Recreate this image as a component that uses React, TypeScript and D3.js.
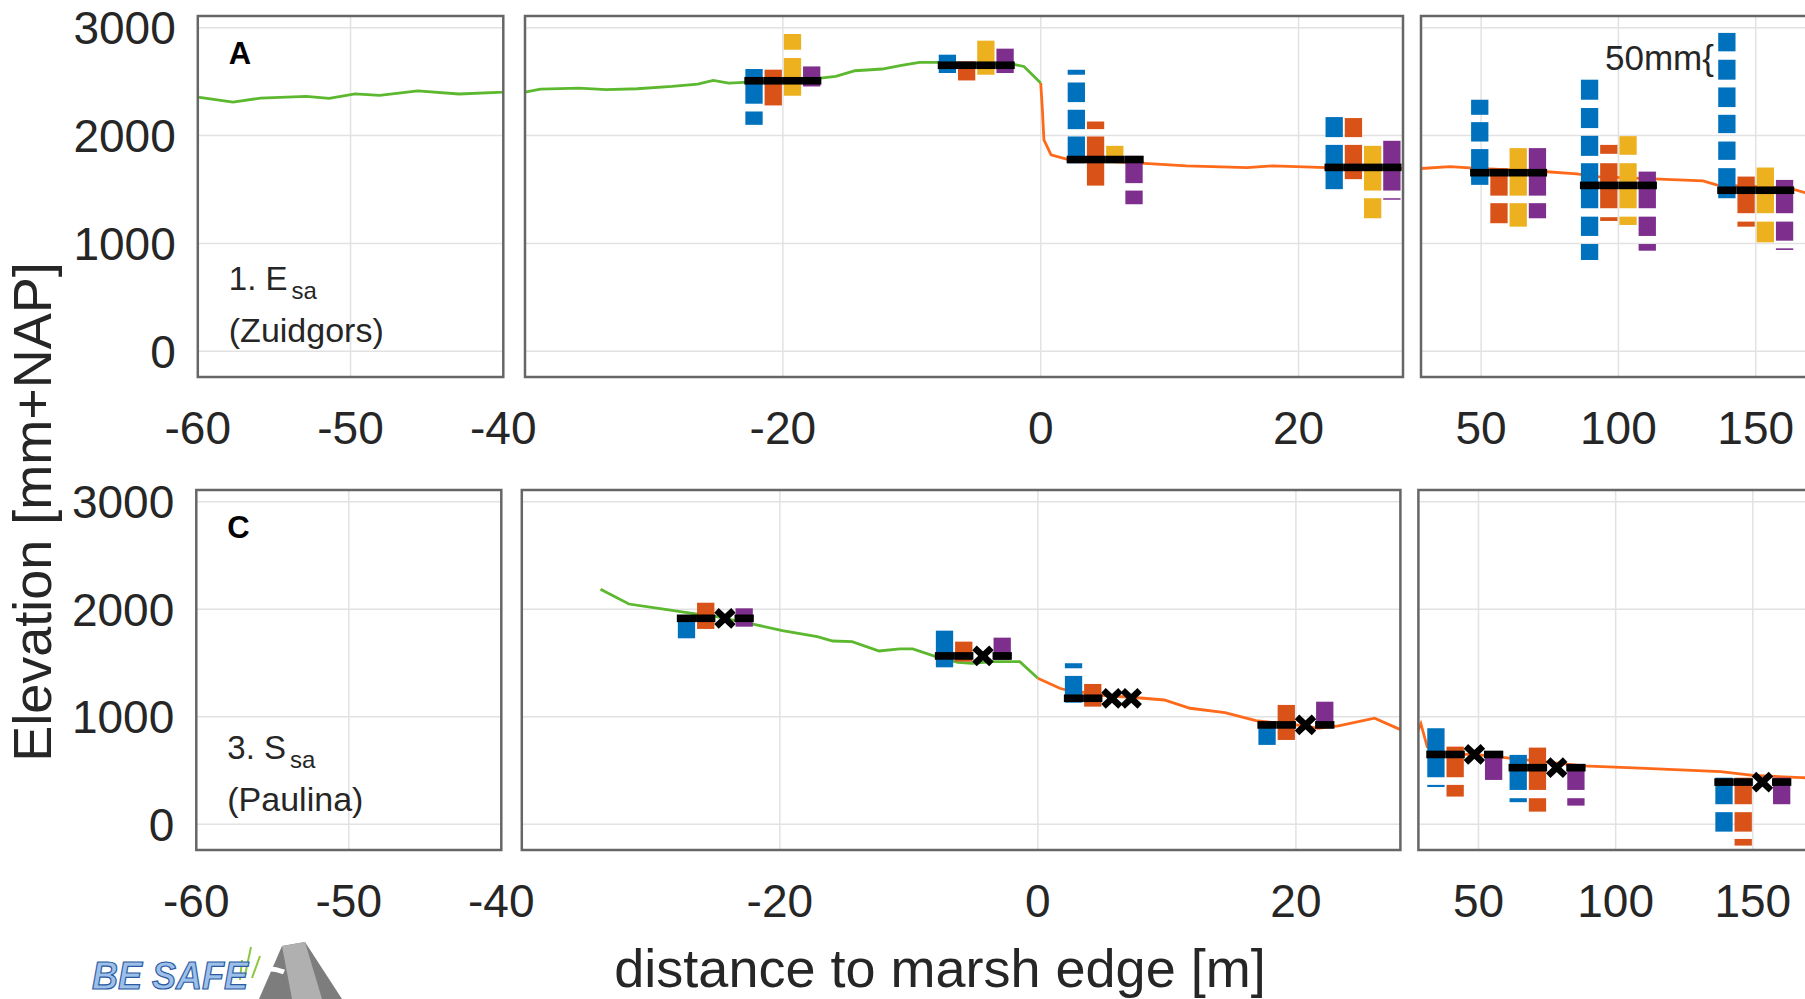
import React from 'react'
import * as d3 from 'd3'

// elevation profiles [distance (m), elevation (mm+NAP)]
const topProfileGreen = [
  [-60, 2358], [-57.7, 2311], [-55.9, 2348], [-52.9, 2364], [-51.4, 2345], [-49.7, 2388],
  [-48.1, 2373], [-45.6, 2416], [-42.9, 2386], [-40, 2404], [-38.8, 2431], [-35.8, 2441],
  [-33.7, 2426], [-31.3, 2435], [-28.6, 2456], [-26.6, 2478], [-25.4, 2512], [-24.2, 2488],
  [-23, 2494], [-20, 2505], [-17.1, 2534], [-15.9, 2549], [-14.4, 2602], [-12.3, 2618],
  [-10.8, 2652], [-9.4, 2680], [-8.1, 2680], [-5, 2668], [-2.0, 2658], [-1.3, 2642], [0, 2488],
]
const topProfileOrange = [
  [0, 2488], [0.13, 2240], [0.25, 1961], [0.8, 1822], [2.0, 1782], [7.7, 1744], [11.3, 1719],
  [16.0, 1703], [18, 1719], [22.2, 1703], [28.1, 1695], [38.7, 1713], [47.2, 1698], [72.7, 1667],
  [84.8, 1645], [92.1, 1620], [115, 1596], [130.8, 1580], [135.7, 1543], [162.3, 1512],
  [168, 1471], [180, 1440],
]
const botProfileGreen = [
  [-33.9, 2186], [-31.7, 2049], [-29.4, 2009], [-26.8, 1963], [-25, 1935], [-22.1, 1863],
  [-19.8, 1801], [-17.1, 1745], [-15.9, 1705], [-14.4, 1699], [-12.3, 1612], [-10.7, 1631],
  [-9.7, 1631], [-7.9, 1559], [-6.2, 1505], [-5.1, 1498], [-3.5, 1513], [-1.4, 1513], [0, 1358],
]
const botProfileOrange = [
  [0, 1358], [1.7, 1265], [2.2, 1249], [5, 1200], [8.2, 1172], [9.8, 1156], [11.8, 1079],
  [14.5, 1038], [16.9, 964], [20, 924], [21.7, 893], [23.3, 914], [26.1, 986], [28.1, 880],
  [29, 935], [31.3, 722], [36.9, 660], [50, 645], [88.2, 542], [108.8, 521], [138.3, 489],
  [150, 455], [167.8, 433], [180, 425],
]

// measurement sites: position, reference elevation and stacked blocks per period
const topSites = [-20, -5, 5, 25, 60, 100, 150]
const topBase = [2509, 2653, 1778, 1705, 1656, 1538, 1493]
const topBlue = [
  [[2296, 2618], [2100, 2224]],
  [[2581, 2751]],
  [[2565, 2611], [2311, 2493], [2060, 2240], [1744, 1992]],
  [[1986, 2172], [1503, 1914]],
  [[2193, 2333], [1945, 2125], [1543, 1875]],
  [[2333, 2519], [2070, 2256], [1812, 1998], [1326, 1744], [1069, 1248], [846, 994]],
  [[2782, 2953], [2519, 2704], [2265, 2447], [2023, 2193], [1775, 1945], [1419, 1698]],
]
const topOrange = [
  [[2280, 2612]],
  [[2512, 2689]],
  [[2060, 2131], [1536, 1992]],
  [[1986, 2163], [1596, 1914]],
  [[1443, 1698], [1187, 1373]],
  [[1831, 1914], [1326, 1744], [1208, 1243]],
  [[1280, 1620], [1155, 1202]],
]
const topYellow = [
  [[2797, 2943], [2370, 2720]],
  [[2565, 2881]],
  [[1744, 1905]],
  [[1490, 1905], [1233, 1419]],
  [[1443, 1884], [1155, 1373]],
  [[1822, 1995], [1326, 1744], [1171, 1248]],
  [[1280, 1704], [1010, 1202]],
]
const topPurple = [
  [[2456, 2642]],
  [[2581, 2807]],
  [[1559, 1812], [1363, 1490]],
  [[1490, 1952], [1405, 1419]],
  [[1443, 1884], [1233, 1373]],
  [[1326, 1666], [1069, 1248], [932, 994]],
  [[1280, 1589], [1025, 1202], [939, 954]],
]

const botSites = [-25, -5, 5, 20, 45, 75, 150]
const botBase = [1916, 1566, 1172, 924, 649, 526, 392]
const botBlue = [
  [[1730, 1947]],
  [[1460, 1801]],
  [[1451, 1498], [1131, 1380]],
  [[738, 954]],
  [[437, 893], [346, 366]],
  [[319, 645], [205, 242]],
  [[186, 433], [-69, 112]],
]
const botOrange = [
  [[1817, 2061]],
  [[1513, 1699]],
  [[1094, 1305]],
  [[784, 1110]],
  [[437, 722], [257, 366]],
  [[319, 713], [117, 242]],
  [[186, 433], [-69, 112], [-199, -137]],
]
// null = no data (drawn as a cross)
const botYellow = [null, null, null, null, null, null, null]
const botPurple = [
  [[1838, 2009]],
  [[1528, 1736]],
  null,
  [[893, 1140]],
  [[412, 675]],
  [[319, 561], [173, 242]],
  [[186, 433]],
]

const colColors = ['#0072bd', '#d95319', '#edb120', '#7e2f8e']
const yTicks = [0, 1000, 2000, 3000]
const panelDomains = [[-60, -40], [-40, 28.1], [28.1, 200]]
const panelTicks = [[-60, -50, -40], [-20, 0, 20], [50, 100, 150]]

const rows = [
  {
    top: 16, bottom: 377, lefts: [197.8, 525, 1421], rights: [503.3, 1403, 1893],
    letter: 'A', site: '1. E', name: '(Zuidgors)', siteY: 290, nameY: 342,
    green: topProfileGreen, orange: topProfileOrange,
    sites: topSites, base: topBase, stacks: [topBlue, topOrange, topYellow, topPurple],
  },
  {
    top: 490, bottom: 850, lefts: [196.3, 521.8, 1418.4], rights: [501.3, 1400.4, 1890],
    letter: 'C', site: '3. S', name: '(Paulina)', siteY: 759, nameY: 811,
    green: botProfileGreen, orange: botProfileOrange,
    sites: botSites, base: botBase, stacks: [botBlue, botOrange, botYellow, botPurple],
  },
]

const W = 1805
const H = 999
const font = "'Liberation Sans', Arial, Helvetica, sans-serif"

export default function App() {
  const band = d3.scaleBand().domain(['0', '1', '2', '3']).range([-37.5, 37.5]).paddingInner(0.1)
  const bw = band.bandwidth()

  return (
    <svg width={W} height={H} style={{ position: 'absolute', left: 0, top: 0, background: '#fff' }}
      fontFamily={font}>
      <defs>
        {rows.map((row, ri) => row.lefts.map((l, pi) => (
          <clipPath id={`clip-${ri}-${pi}`} key={`c${ri}${pi}`}>
            <rect x={l} y={row.top} width={row.rights[pi] - l} height={row.bottom - row.top} />
          </clipPath>
        )))}
      </defs>

      {rows.map((row, ri) => {
        let y = d3.scaleLinear().domain([-240, 3110]).range([row.bottom, row.top])
        return (
          <g key={ri}>
            {panelDomains.map((dom, pi) => {
              let x = d3.scaleLinear().domain(dom).range([row.lefts[pi], row.rights[pi]])
              let line = d3.line().x(d => x(d[0])).y(d => y(d[1]))
              let l = row.lefts[pi], r = row.rights[pi]
              return (
                <g key={pi}>
                  <rect x={l} y={row.top} width={r - l} height={row.bottom - row.top} fill="#fff" />
                  <g clipPath={`url(#clip-${ri}-${pi})`}>
                    {yTicks.map(t => (
                      <line key={'gy' + t} x1={l} x2={r} y1={y(t)} y2={y(t)} stroke="#e2e2e2" strokeWidth={1.5} />
                    ))}
                    {panelTicks[pi].map(t => (
                      <line key={'gx' + t} x1={x(t)} x2={x(t)} y1={row.top} y2={row.bottom} stroke="#e2e2e2" strokeWidth={1.5} />
                    ))}
                    <path d={line(row.green)} fill="none" stroke="#5cb82e" strokeWidth={2.8} />
                    <path d={line(row.orange)} fill="none" stroke="#ff6a1a" strokeWidth={2.8} />

                    {row.sites.map((sx, si) => {
                      if (sx < dom[0] || sx > dom[1]) return null
                      let cx = x(sx)
                      let by = y(row.base[si])
                      return (
                        <g key={'s' + si}>
                          {row.stacks.map((stack, ci) => {
                            let blocks = stack[si]
                            let bx = cx + band(String(ci))
                            if (!blocks) {
                              let mx = bx + bw / 2
                              return (
                                <path key={ci} d={`M${mx - 8.5},${by - 8}L${mx + 8.5},${by + 8}M${mx - 8.5},${by + 8}L${mx + 8.5},${by - 8}`}
                                  stroke="#000" strokeWidth={6.5} fill="none" />
                              )
                            }
                            return (
                              <g key={ci}>
                                {blocks.map((b, k) => (
                                  <rect key={k} x={bx} width={bw} y={y(b[1])} height={y(b[0]) - y(b[1])}
                                    fill={colColors[ci]} />
                                ))}
                                <rect x={bx - 1} width={bw + 2} y={by - 3.8} height={7.6} fill="#000" />
                              </g>
                            )
                          })}
                        </g>
                      )
                    })}
                  </g>
                  <rect x={l} y={row.top} width={r - l} height={row.bottom - row.top}
                    fill="none" stroke="#666" strokeWidth={2.5} />
                  {panelTicks[pi].map(t => (
                    <text key={'tx' + t} x={x(t)} y={row.bottom + 67} textAnchor="middle" fontSize={46} fill="#262626">
                      {t}
                    </text>
                  ))}
                </g>
              )
            })}

            {yTicks.map(t => (
              <text key={'ty' + t} x={row.lefts[0] - 22} y={y(t)} dy="0.36em" textAnchor="end" fontSize={46} fill="#262626">
                {t}
              </text>
            ))}
            <text x={row.lefts[0] + 31} y={row.top + 48} fontSize={31} fontWeight="bold" fill="#000">{row.letter}</text>
            <text x={row.lefts[0] + 31} y={row.siteY} fontSize={33} fill="#262626">
              {row.site}
              <tspan dx={4} dy={9} fontSize={24}>sa</tspan>
            </text>
            <text x={row.lefts[0] + 31} y={row.nameY} fontSize={34} fill="#262626">{row.name}</text>
          </g>
        )
      })}

      <text x={1605} y={70} fontSize={35} fill="#262626">50mm{'{'}</text>

      <text transform="translate(51,512) rotate(-90)" textAnchor="middle" fontSize={54} fill="#262626">
        Elevation [mm+NAP]
      </text>
      <text x={940} y={987} textAnchor="middle" fontSize={54} fill="#262626">
        distance to marsh edge [m]
      </text>

      {/* logo */}
      <g>
        <polygon points="259,999 282,946 305,942 342,999" fill="#7d7d7d" />
        <polygon points="282,946 305,942 322,999 292,999" fill="#b0b0b0" />
        <path d="M238,982 q22,-20 46,-10" stroke="#fff" strokeWidth={5} fill="none" />
        <path d="M245,975 l6,-28 M252,978 l8,-22 M240,980 l2,-20" stroke="#8dc63f" strokeWidth={2} />
        <text x={92} y={989} fontSize={38} fontStyle="italic" fontWeight="bold" fill="#9cc0ea"
          stroke="#2c5aa0" strokeWidth={1.2} textLength={156} lengthAdjust="spacingAndGlyphs">
          BE SAFE
        </text>
      </g>
    </svg>
  )
}
